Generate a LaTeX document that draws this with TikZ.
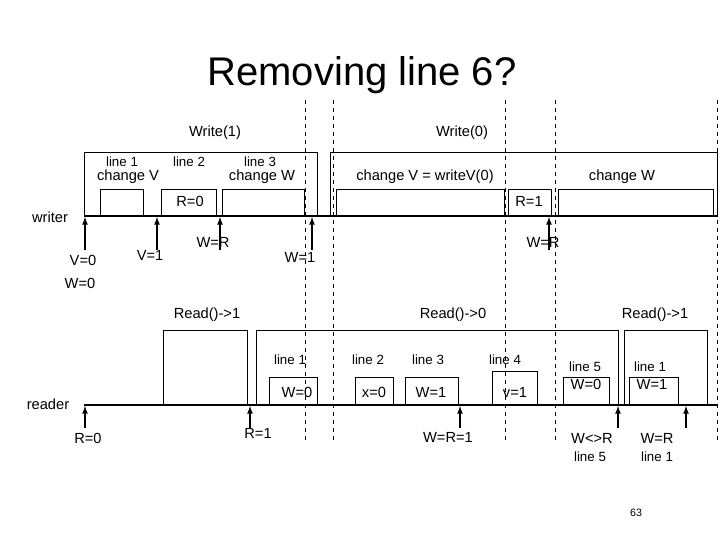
\documentclass[tikz,border=0pt]{standalone}
\usepackage{fontspec}
\setmainfont{Liberation Sans}
\usetikzlibrary{arrows,positioning}
\tikzset{
lbl/.style={inner sep=1pt, font=\fontsize{11}{12}\selectfont},
small/.style={inner sep=1pt, font=\fontsize{10}{11}\selectfont},
box/.style={draw, line width=0.6pt},
sep/.style={dashed, line width=0.6pt},
up/.style={-latex, line width=1pt}
}
\begin{document}
\begin{tikzpicture}[x=0.75pt,y=-0.75pt]
  \useasboundingbox (0,0) rectangle (720,540);
  \node[font=\fontsize{30}{32}\selectfont] (title) at (362,75) {Removing line 6?};

  % dashed separators
  \foreach \x in {305,333,505,555,717}
    \draw[sep] (\x,100) -- (\x,442);

  % writer
  \node[lbl] (write1) at (215,133) {Write(1)};
  \node[lbl] (write0) at (462,133) {Write(0)};
  \node[lbl] (writer) at (50,217) {writer};
  \coordinate (ws) at (84,216);
  \coordinate (we) at (717,216);
  \draw[line width=0.8pt] (ws) -- (we);
  \draw[box] (84,216) rectangle (317,152);
  \draw[box] (100,216) rectangle (143,189);
  \draw[box] (161,216) rectangle (216,189);
  \draw[box] (222,216) rectangle (304,189);
  \draw[box] (330,216) rectangle (717,152);
  \draw[box] (336,216) rectangle (504,189);
  \draw[box] (508,216) rectangle (551,189);
  \draw[box] (558,216) rectangle (713,189);
  \node[small] (wl1) at (122,162) {line 1};
  \node[lbl] (wcv) at (128,177) {change V};
  \node[small] (wl2) at (189,162) {line 2};
  \node[small] (wl3) at (260,162) {line 3};
  \node[lbl] (wcw) at (262,177) {change W};
  \node[lbl] (wcv0) at (425,177) {change V = writeV(0)};
  \node[lbl] (wcw0) at (622,177) {change W};
  \node[lbl] (r0) at (190,201) {R=0};
  \node[lbl] (r1) at (529,201) {R=1};
  \node[lbl] (v0) at (83,260) {V=0};
  \node[lbl] (w0) at (80,283) {W=0};
  \node[lbl] (v1) at (150,255) {V=1};
  \node[lbl] (wr) at (213,242) {W=R};
  \node[lbl] (w1) at (300,257) {W=1};
  \node[lbl] (wr0) at (543,242) {W=R};
  \foreach \x/\n in {85/a,157/b,220/c,312/d,549/e} {
    \coordinate (\n lo) at (\x,250);
    \coordinate (\n hi) at (\x,217);
    \draw[up] (\n lo) -- (\n hi);
  }

  % reader
  \node[lbl] (read1) at (207,315) {Read()->1};
  \node[lbl] (read0) at (453,315) {Read()->0};
  \node[lbl] (read2) at (655,315) {Read()->1};
  \node[lbl] (reader) at (48,404) {reader};
  \coordinate (rs) at (84,405);
  \coordinate (re) at (717,405);
  \draw[line width=0.8pt] (rs) -- (re);
  \draw[box] (163,405) rectangle (247,330);
  \draw[box] (256,405) rectangle (618,330);
  \draw[box] (624,405) rectangle (707,330);
  \draw[box] (269,405) rectangle (317,377);
  \draw[box] (355,405) rectangle (393,377);
  \draw[box] (405,405) rectangle (458,377);
  \draw[box] (492,405) rectangle (537,371);
  \draw[box] (563,405) rectangle (609,377);
  \draw[box] (629,405) rectangle (678,377);
  \node[small] (rl1) at (290,360) {line 1};
  \node[small] (rl2) at (368,360) {line 2};
  \node[small] (rl3) at (428,360) {line 3};
  \node[small] (rl4) at (505,360) {line 4};
  \node[small] (rl5) at (585,367) {line 5};
  \node[small] (rl6) at (650,367) {line 1};
  \node[lbl] (rw0) at (297,392) {W=0};
  \node[lbl] (rx0) at (374,392) {x=0};
  \node[lbl] (rw1) at (431,392) {W=1};
  \node[lbl] (rv1) at (515,392) {v=1};
  \node[lbl] (rw0b) at (586,384) {W=0};
  \node[lbl] (rw1b) at (652,384) {W=1};
  \node[lbl] (rr0) at (88,438) {R=0};
  \node[lbl] (rr1) at (258,433) {R=1};
  \node[lbl] (rwr1) at (448,437) {W=R=1};
  \node[lbl] (rne) at (592,438) {W<>R};
  \node[small] (rl5b) at (590,457) {line 5};
  \node[lbl] (rwr) at (657,438) {W=R};
  \node[small] (rl1b) at (657,457) {line 1};
  \foreach \x/\n in {85/f,250/g,460/h,618/i,686/j} {
    \coordinate (\n lo) at (\x,428);
    \coordinate (\n hi) at (\x,406);
    \draw[up] (\n lo) -- (\n hi);
  }

  \node[font=\fontsize{8}{9}\selectfont] (page) at (636,513) {63};
\end{tikzpicture}
\end{document}
